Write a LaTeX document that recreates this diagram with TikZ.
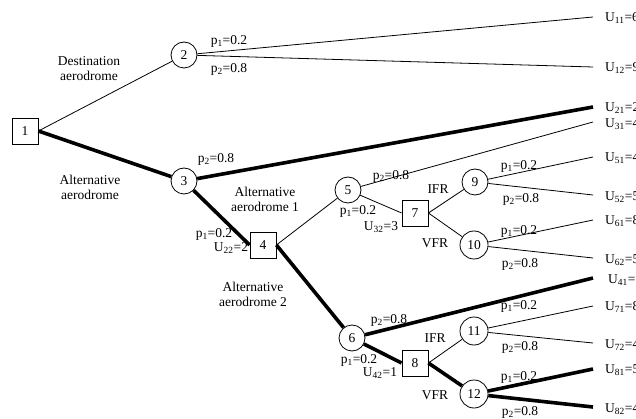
\documentclass[tikz,border=0pt]{standalone}
\usepackage{fontspec}
\setmainfont{Liberation Serif}
\newcommand{\sbs}[1]{\textsubscript{#1}}
\begin{document}
\begin{tikzpicture}[x=1pt,y=-1pt,
  every node/.style={font=\fontsize{13.5}{15}\selectfont},
  decbox/.style={draw, rectangle, minimum size=26pt, inner sep=1pt, line width=0.8pt},
  chancenode/.style={draw, circle, minimum size=26pt, inner sep=1pt, line width=0.8pt},
  lnA/.style={line width=0.8pt},
  lnB/.style={line width=3.6pt},
  lbl/.style={inner sep=0pt, align=center},
  leaf/.style={anchor=west, inner sep=0pt}]
\useasboundingbox (0,0) rectangle (636,419);
\clip (0,0) rectangle (636,419);
% nodes
\node[decbox] (n1) at (25,131) {1};
\node[chancenode] (n2) at (184,55) {2};
\node[chancenode] (n3) at (184,181) {3};
\node[decbox] (n4) at (263,245) {4};
\node[chancenode] (n5) at (348,190) {5};
\node[decbox] (n7) at (415,213) {7};
\node[chancenode] (n9) at (475,182) {9};
\node[chancenode, minimum size=28pt] (n10) at (474,245) {10};
\node[chancenode] (n6) at (352,338) {6};
\node[decbox] (n8) at (415,363) {8};
\node[chancenode, minimum size=28pt] (n11) at (474,331) {11};
\node[chancenode, minimum size=28pt] (n12) at (474,394) {12};
% leaf ends
\coordinate (e11) at (593,17);
\coordinate (e12) at (593,67);
\coordinate (e21) at (593,107);
\coordinate (e31) at (593,122);
\coordinate (e51) at (593,157);
\coordinate (e52) at (593,195);
\coordinate (e61) at (593,220);
\coordinate (e62) at (593,258);
\coordinate (e41) at (593,278);
\coordinate (e71) at (593,306);
\coordinate (e72) at (593,343);
\coordinate (e81) at (593,369);
\coordinate (e82) at (593,407);
% leaf labels
\node[leaf] (u11) at (605,18) {U\sbs{11}=6};
\node[leaf] (u12) at (605,68) {U\sbs{12}=9};
\node[leaf] (u21) at (605,108) {U\sbs{21}=2};
\node[leaf] (u31) at (605,124) {U\sbs{31}=4};
\node[leaf] (u51) at (605,158) {U\sbs{51}=4};
\node[leaf] (u52) at (605,197) {U\sbs{52}=5};
\node[leaf] (u61) at (605,221) {U\sbs{61}=8};
\node[leaf] (u62) at (605,260) {U\sbs{62}=5};
\node[leaf] (u41) at (608,280) {U\sbs{41}=3};
\node[leaf] (u71) at (605,307) {U\sbs{71}=8};
\node[leaf] (u72) at (605,345) {U\sbs{72}=4};
\node[leaf] (u81) at (605,370) {U\sbs{81}=5};
\node[leaf] (u82) at (605,409) {U\sbs{82}=4};
% connectors
\draw[lnA] (n1.east) -- (n2);
\draw[lnB] (n1.east) -- (n3);
\draw[lnA] (n2) -- (e11);
\draw[lnA] (n2) -- (e12);
\draw[lnB] (n3) -- (e21);
\draw[lnB] (n3) -- (n4.west);
\draw[lnA] (n4.east) -- (n5);
\draw[lnB] (n4.east) -- (n6);
\draw[lnA] (n5) -- (e31);
\draw[lnA] (n5) -- (n7.west);
\draw[lnA] (n7.east) -- (n9);
\draw[lnA] (n7.east) -- (n10);
\draw[lnA] (n9) -- (e51);
\draw[lnA] (n9) -- (e52);
\draw[lnA] (n10) -- (e61);
\draw[lnA] (n10) -- (e62);
\draw[lnB] (n6) -- (e41);
\draw[lnB] (n6) -- (n8.west);
\draw[lnA] (n8.east) -- (n11);
\draw[lnB] (n8.east) -- (n12);
\draw[lnA] (n11) -- (e71);
\draw[lnA] (n11) -- (e72);
\draw[lnB] (n12) -- (e81);
\draw[lnB] (n12) -- (e82);
% labels
\node[lbl] (t1) at (89,69) {Destination\\aerodrome};
\node[lbl] (t2) at (90,187) {Alternative\\aerodrome};
\node[lbl] (t3) at (265,199) {Alternative\\aerodrome 1};
\node[lbl] (t4) at (253,294) {Alternative\\aerodrome 2};
\node[lbl] (p2a) at (229,41) {p\sbs{1}=0.2};
\node[lbl] (p2b) at (229,69) {p\sbs{2}=0.8};
\node[lbl] (p3b) at (216,159) {p\sbs{2}=0.8};
\node[lbl] (p4a) at (214,234) {p\sbs{1}=0.2};
\node[lbl] (u22) at (231,248) {U\sbs{22}=2};
\node[lbl] (p5b) at (391,176) {p\sbs{2}=0.8};
\node[lbl] (p5a) at (358,211) {p\sbs{1}=0.2};
\node[lbl] (u32) at (381,227) {U\sbs{32}=3};
\node[lbl] (ifr1) at (438,189) {IFR};
\node[lbl] (vfr1) at (435,243) {VFR};
\node[lbl] (p9a) at (519,166) {p\sbs{1}=0.2};
\node[lbl] (p9b) at (521,199) {p\sbs{2}=0.8};
\node[lbl] (p10a) at (519,231) {p\sbs{1}=0.2};
\node[lbl] (p10b) at (520,264) {p\sbs{2}=0.8};
\node[lbl] (p6b) at (389,320) {p\sbs{2}=0.8};
\node[lbl] (p6a) at (359,360) {p\sbs{1}=0.2};
\node[lbl] (u42) at (380,373) {U\sbs{42}=1};
\node[lbl] (ifr2) at (435,338) {IFR};
\node[lbl] (vfr2) at (435,395) {VFR};
\node[lbl] (p11a) at (519,306) {p\sbs{1}=0.2};
\node[lbl] (p11b) at (520,347) {p\sbs{2}=0.8};
\node[lbl] (p12a) at (519,377) {p\sbs{1}=0.2};
\node[lbl] (p12b) at (520,412) {p\sbs{2}=0.8};
\end{tikzpicture}
\end{document}
